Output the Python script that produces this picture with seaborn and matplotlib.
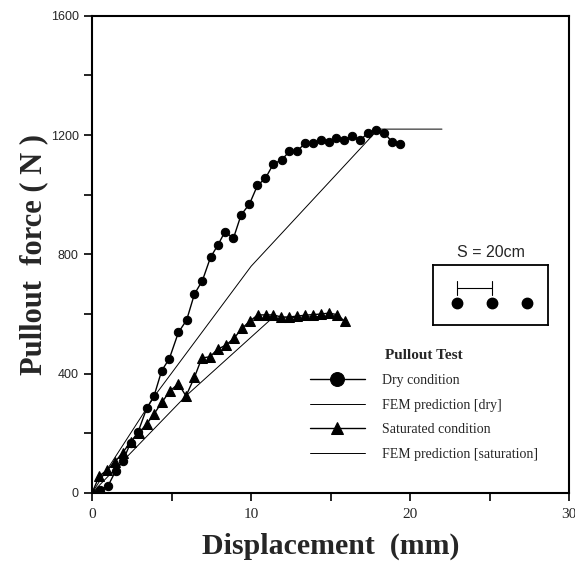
import matplotlib
matplotlib.use("Agg")
import matplotlib.pyplot as plt
from matplotlib.ticker import MultipleLocator
import seaborn as sns
import pandas as pd

#%% DATA
# Dry condition (measured)
dry_x = [0, 0.5, 1.0, 1.5, 1.93, 2.43, 2.9, 3.44, 3.9, 4.38, 4.86, 5.43, 5.95,
         6.44, 6.94, 7.45, 7.9, 8.36, 8.89, 9.37, 9.9, 10.4, 10.9, 11.4, 11.93,
         12.4, 12.87, 13.4, 13.88, 14.38, 14.88, 15.35, 15.85, 16.33, 16.86,
         17.34, 17.86, 18.36, 18.85, 19.33]
dry_y = [0, 10, 23, 75, 106, 169, 205, 284, 325, 410, 450, 538, 580, 667, 712,
         790, 830, 876, 854, 932, 969, 1031, 1055, 1103, 1117, 1145, 1145, 1173,
         1173, 1182, 1178, 1190, 1182, 1198, 1182, 1208, 1217, 1208, 1178, 1170]

# Saturated condition (measured)
sat_x = [0, 0.46, 0.96, 1.45, 1.93, 2.43, 2.96, 3.44, 3.9, 4.42, 4.9, 5.43,
         5.91, 6.44, 6.9, 7.42, 7.9, 8.43, 8.93, 9.43, 9.94, 10.42, 10.92, 11.4,
         11.9, 12.4, 12.9, 13.4, 13.9, 14.4, 14.9, 15.4, 15.9]
sat_y = [0, 57, 77, 105, 135, 172, 202, 231, 265, 306, 342, 366, 325, 388, 452,
         457, 482, 496, 519, 552, 577, 597, 597, 597, 590, 590, 593, 596, 598,
         600, 603, 598, 575]

# FEM predictions
fem_dry_x = [0, 4, 10, 18, 22]
fem_dry_y = [0, 330, 760, 1220, 1220]
fem_sat_x = [0, 5.9, 11.3, 15.5]
fem_sat_y = [0, 325, 585, 595]

# inset: pile spacing S = 20 cm
pile_x = [0, 20, 40]
spacing = 20

#%% PLOT
sns.set_style("ticks")
plt.rcParams["font.family"] = ["Liberation Serif", "DejaVu Serif"]

fig = plt.figure(figsize=(5.75, 5.64), dpi=100)
ax = fig.add_axes([0.16, 0.126, 0.83, 0.846])

sns.lineplot(
    data=pd.DataFrame({"x": dry_x, "y": dry_y}), x="x", y="y",
    sort=False, estimator=None, ax=ax,
    color="black", linewidth=1.0, marker="o", markersize=6,
    markeredgecolor="black", label="Dry condition"
    )
sns.lineplot(
    x=fem_dry_x, y=fem_dry_y, sort=False, estimator=None, ax=ax,
    color="black", linewidth=0.7, label="FEM prediction [dry]"
    )
sns.lineplot(
    data=pd.DataFrame({"x": sat_x, "y": sat_y}), x="x", y="y",
    sort=False, estimator=None, ax=ax,
    color="black", linewidth=1.0, marker="^", markersize=6.5,
    markeredgecolor="black", label="Saturated condition"
    )
sns.lineplot(
    x=fem_sat_x, y=fem_sat_y, sort=False, estimator=None, ax=ax,
    color="black", linewidth=0.7, label="FEM prediction [saturation]"
    )

ax.set_xlim(0, 30)
ax.set_ylim(0, 1600)
ax.xaxis.set_major_locator(MultipleLocator(10))
ax.xaxis.set_minor_locator(MultipleLocator(5))
ax.yaxis.set_major_locator(MultipleLocator(400))
ax.yaxis.set_minor_locator(MultipleLocator(200))
ax.tick_params(which="both", direction="out", length=6, width=1.2, color="black")
ax.tick_params(axis="x", labelsize=11, pad=5)
ax.tick_params(axis="y", labelsize=9)
for lbl in ax.get_yticklabels():
    lbl.set_family("Liberation Sans")
for sp in ax.spines.values():
    sp.set_linewidth(1.5)
    sp.set_color("black")

ax.set_xlabel("Displacement  (mm)", fontsize=21.5, fontweight="bold", labelpad=8)
ax.set_ylabel("Pullout  force ( N )", fontsize=22, fontweight="bold", labelpad=2)

leg = ax.legend(
    loc="upper left", bbox_to_anchor=(0.43, 0.328), frameon=False,
    title="Pullout Test", fontsize=10, handlelength=4.0, handletextpad=1.2,
    labelspacing=0.85
    )
leg.get_title().set_fontweight("bold")
leg.get_title().set_fontsize(11)
for h in leg.legend_handles:
    if h.get_marker() == "o":
        h.set_markersize(10)
    elif h.get_marker() == "^":
        h.set_markersize(8)

# inset sketch of pile arrangement
ins = fig.add_axes([0.753, 0.424, 0.2, 0.106])
ins.plot(pile_x, [0] * len(pile_x), "o", color="black", markersize=7.5)
ins.plot([pile_x[0], pile_x[0] + spacing], [1, 1], color="black", linewidth=0.8)
for px in [pile_x[0], pile_x[0] + spacing]:
    ins.plot([px, px], [0.55, 1.45], color="black", linewidth=0.8)
ins.set_xlim(-13.7, 52)
ins.set_ylim(-1.4, 2.5)
ins.set_xticks([])
ins.set_yticks([])
for sp in ins.spines.values():
    sp.set_linewidth(1.3)
    sp.set_color("black")
fig.text(0.853, 0.553, f"S = {spacing}cm", ha="center", va="center",
         fontsize=11.5, family="Liberation Sans")

fig.savefig("out.png", dpi=100)
